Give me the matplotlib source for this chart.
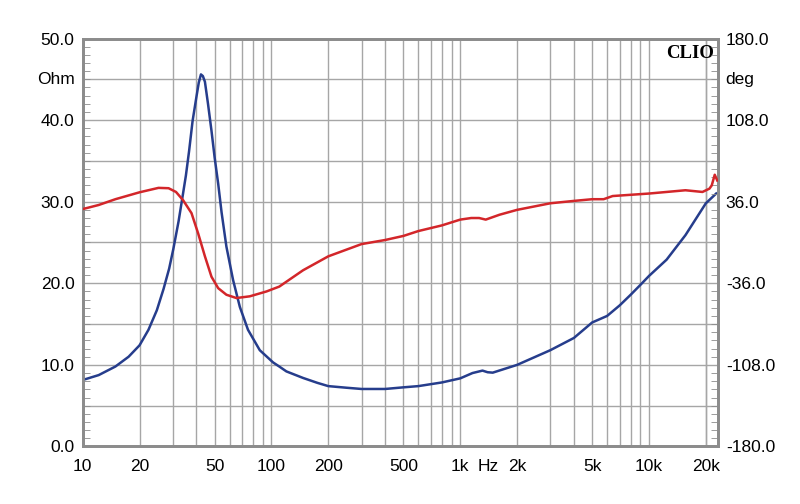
import matplotlib
matplotlib.use('Agg')
import matplotlib.pyplot as plt
from matplotlib.ticker import FixedLocator, NullFormatter

plt.rcParams['font.family'] = ['Liberation Sans', 'DejaVu Sans']

# impedance (Ohm), blue
imp_freq = [10, 12.15, 14.9, 17.5, 20, 22.3, 24.7, 26.8, 28.7, 30.2, 32.2, 34.0,
            35.2, 36.6, 38.2, 40, 41.2, 42.3, 43.3, 44.4, 46.1, 48.1, 50, 52.2,
            54.4, 57.7, 62.6, 68, 75.1, 86.7, 102, 110, 120, 147, 175, 200, 250,
            300, 400, 500, 600, 800, 1000, 1161, 1312, 1397, 1487, 2000, 3000,
            4000, 5000, 6000, 7000, 8000, 9000, 10000, 12400, 15600, 20000, 22700]
imp_ohm = [8.15, 8.75, 9.8, 11.0, 12.4, 14.3, 16.7, 19.3, 21.8, 24.2, 27.6, 31.0,
           33.2, 36.2, 39.9, 42.8, 44.6, 45.6, 45.4, 44.7, 42.0, 38.7, 35.4, 32.2,
           28.7, 24.5, 20.4, 17.1, 14.3, 11.8, 10.3, 9.8, 9.2, 8.4, 7.8, 7.4, 7.2,
           7.05, 7.05, 7.25, 7.4, 7.85, 8.35, 9.0, 9.3, 9.1, 9.05, 10.0, 11.8, 13.3,
           15.2, 16.0, 17.3, 18.6, 19.8, 20.9, 22.9, 25.9, 29.8, 31.0]

# phase (deg), red
ph_freq = [10, 12.15, 14.9, 20, 25.2, 28.5, 31.2, 34.0, 37.7, 40.9, 44.4, 48.1,
           52.2, 57.7, 65.2, 76.7, 94.1, 110, 147, 200, 300, 400, 500, 600, 800,
           1000, 1143, 1259, 1365, 1615, 2000, 3000, 4000, 5000, 5750, 6420, 10000,
           15600, 19200, 20900, 21500, 22300, 23000]
ph_deg = [29.5, 33.1, 38.2, 44.3, 48.2, 47.9, 44.6, 37.4, 25.9, 7.9, -12.2, -30.2,
          -40.3, -46.1, -49.0, -47.5, -43.2, -38.9, -24.5, -12.2, -1.4, 2.2, 5.8,
          10.1, 15.1, 20.2, 21.6, 21.6, 20.2, 24.5, 28.8, 34.6, 36.7, 38.2, 38.2,
          41.0, 43.2, 46.1, 44.6, 47.5, 50.4, 59.8, 54.7]

xticks = [10, 20, 50, 100, 200, 500, 1000, 2000, 5000, 10000, 20000]
xlabels = ['10', '20', '50', '100', '200', '500', '1k', '2k', '5k', '10k', '20k']
grid_freqs = [m * 10 ** d for d in range(1, 5) for m in range(1, 10)] + [20000]
left_ticks = [0, 10, 20, 30, 40, 50]
right_ticks = [-180, -108, -36, 36, 108, 180]

grid_col = '#a6a6a6'
spine_col = '#8c8c8c'

fig = plt.figure(figsize=(8, 5.04), dpi=100)
ax = fig.add_axes([0.1034, 0.1141, 0.7935, 0.8095])
ax2 = ax.twinx()

ax.set_xscale('log')
ax.set_xlim(10, 23070)
ax.set_ylim(0, 50)
ax2.set_ylim(-180, 180)

for f in grid_freqs:
    ax.axvline(f, color=grid_col, lw=1.0, zorder=0)
for v in range(5, 50, 5):
    ax.axhline(v, color=grid_col, lw=1.0, zorder=0)

ax.plot(imp_freq, imp_ohm, color='#263d8c', lw=1.8, zorder=3)
ax2.plot(ph_freq, ph_deg, color='#d3262a', lw=1.8, zorder=3)

ax.set_xticks(xticks)
ax.set_xticklabels(xlabels)
ax.xaxis.set_minor_locator(FixedLocator([]))
ax.xaxis.set_minor_formatter(NullFormatter())
ax.tick_params(axis='x', length=0, pad=9, labelsize=12.5)

ax.set_yticks(left_ticks)
ax.set_yticklabels(['%.1f' % v for v in left_ticks])
ax.yaxis.set_minor_locator(FixedLocator(range(0, 51)))
ax.tick_params(axis='y', which='major', length=0, pad=6, labelsize=12.5)
ax.tick_params(axis='y', which='minor', direction='in', length=5, color=spine_col)

ax2.set_yticks(right_ticks)
ax2.set_yticklabels(['%.1f' % v for v in right_ticks])
ax2.yaxis.set_minor_locator(FixedLocator([-180 + 7.2 * i for i in range(51)]))
ax2.tick_params(axis='y', which='major', length=0, pad=6, labelsize=12.5)
ax2.tick_params(axis='y', which='minor', direction='in', length=5, color=spine_col)

for a in (ax, ax2):
    for s in a.spines.values():
        s.set_color(spine_col)
        s.set_linewidth(2)

ax.text(-0.012, 0.9, 'Ohm', transform=ax.transAxes, ha='right', va='center', fontsize=12.5)
ax2.text(1.012, 0.9, 'deg', transform=ax2.transAxes, ha='left', va='center', fontsize=12.5)
ax.annotate('Hz', xy=(1414, 0), xycoords=('data', 'axes fraction'), xytext=(0, -9),
            textcoords='offset points', ha='center', va='top', fontsize=12.5)
ax.text(0.995, 0.985, 'CLIO', transform=ax.transAxes, ha='right', va='top',
        fontsize=13.5, fontweight='bold', family=['Liberation Serif', 'DejaVu Serif'])

fig.savefig('out.png', dpi=100)
